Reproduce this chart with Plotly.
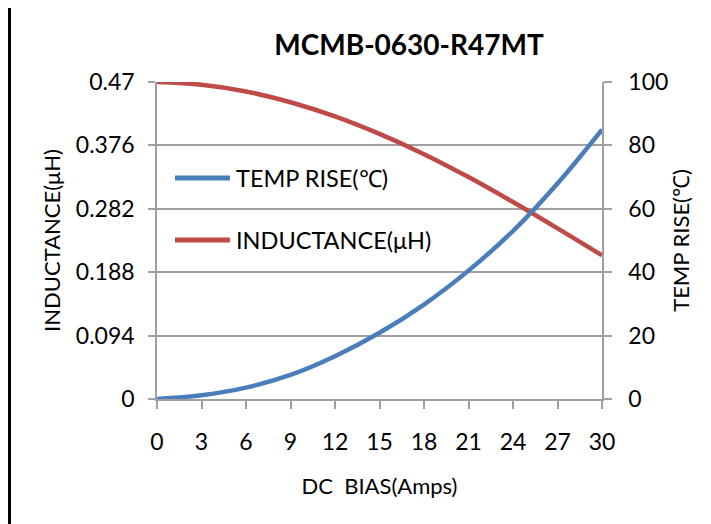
import plotly.graph_objects as go

# ---- data ----
dc_bias = [0, 3, 6, 9, 12, 15, 18, 21, 24, 27, 30]
inductance_uh = [0.470, 0.466, 0.456, 0.440, 0.419, 0.393, 0.363, 0.329, 0.292, 0.253, 0.213]
temp_rise_c = [0, 1.2, 3.6, 7.6, 13.5, 20.9, 29.8, 40.5, 53.0, 68.0, 85.0]

x_ticks = [0, 3, 6, 9, 12, 15, 18, 21, 24, 27, 30]
ind_ticks = [0, 0.094, 0.188, 0.282, 0.376, 0.47]
ind_tick_text = ["0", "0.094", "0.188", "0.282", "0.376", "0.47"]
temp_ticks = [0, 20, 40, 60, 80, 100]

title_text = "MCMB-0630-R47MT"
series_names = ["TEMP RISE(℃)", "INDUCTANCE(μH)"]

FONT = "Lato, 'Liberation Sans', sans-serif"
GRID = "#a0a0a0"
BLUE = "#4a7ebb"
RED = "#be4b48"

# page is shown with an 8px body offset; margins compensate for it
W, H = 711, 524
L, R, T, B = 149, 117, 74, 133
pw, ph = W - L - R, H - T - B

fig = go.Figure()
fig.add_trace(go.Scatter(
    x=dc_bias, y=temp_rise_c, name=series_names[0], yaxis="y2",
    mode="lines", line=dict(color=BLUE, width=4.5, shape="spline", smoothing=1.0),
    showlegend=False))
fig.add_trace(go.Scatter(
    x=dc_bias, y=inductance_uh, name=series_names[1], yaxis="y",
    mode="lines", line=dict(color=RED, width=4.5, shape="spline", smoothing=1.0),
    showlegend=False))

fig.update_layout(
    width=W, height=H,
    margin=dict(l=L, r=R, t=T, b=B, pad=0),
    paper_bgcolor="white", plot_bgcolor="white",
    font=dict(family=FONT, size=23, color="black"),
    title=dict(text="<b>" + title_text + "</b>", x=(409 - 8) / W, xanchor="center",
               y=1 - (45 - 8) / H, yanchor="middle", yref="container",
               font=dict(family=FONT, size=28, color="black")),
    xaxis=dict(range=[0, 30], tickvals=x_ticks, showgrid=False, zeroline=False,
               showline=True, linecolor=GRID, linewidth=1.5,
               ticks="outside", ticklen=8, tickcolor=GRID, tickwidth=1.5,
               ticklabelstandoff=14,
               title=dict(text="DC  BIAS(Amps)", standoff=24,
                          font=dict(family=FONT, size=22))),
    yaxis=dict(range=[0, 0.47], tickvals=ind_ticks, ticktext=ind_tick_text,
               showgrid=True, gridcolor=GRID, gridwidth=1.5, zeroline=False,
               showline=True, linecolor=GRID, linewidth=1.5,
               ticks="outside", ticklen=7, tickcolor=GRID, tickwidth=1.5,
               ticklabelstandoff=9,
               title=dict(text="INDUCTANCE(μH)", standoff=9,
                          font=dict(family=FONT, size=22))),
    yaxis2=dict(range=[0, 100], tickvals=temp_ticks, overlaying="y", side="right",
                showgrid=False, zeroline=False,
                showline=True, linecolor=GRID, linewidth=1.5,
                ticks="outside", ticklen=8, tickcolor=GRID, tickwidth=1.5,
                ticklabelstandoff=12,
                title=dict(text="TEMP RISE(℃)", standoff=6,
                           font=dict(family=FONT, size=22))),
    showlegend=False,
)

# legend drawn as shapes + text (long line samples as in the reference)
leg_rows_px = [178 - 8, 240 - 8]
leg_colors = [BLUE, RED]
for name, col, ypx in zip(series_names, leg_colors, leg_rows_px):
    yp = (H - B - ypx) / ph
    fig.add_shape(type="line", xref="paper", yref="paper",
                  x0=(175 - 8 - L) / pw, x1=(230 - 8 - L) / pw, y0=yp, y1=yp,
                  line=dict(color=col, width=5))
    fig.add_annotation(text=name, xref="paper", yref="paper",
                       x=(234 - 8 - L) / pw, y=yp, xanchor="left", yanchor="middle",
                       showarrow=False, font=dict(family=FONT, size=23.5, color="black"))

# left frame edge
fig.add_shape(type="line", xref="paper", yref="paper",
              x0=(1.5 - L) / pw, x1=(1.5 - L) / pw,
              y0=-B / ph, y1=(H - B) / ph,
              line=dict(color="black", width=3))

fig.write_html("out.html")
